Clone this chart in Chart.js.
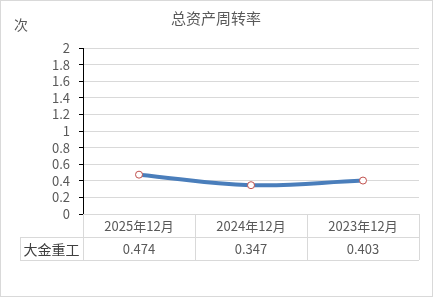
<!DOCTYPE html>
<html>
<head>
<meta charset="utf-8">
<script src="https://cdn.jsdelivr.net/npm/chart.js@4/dist/chart.umd.min.js"></script>
<style>
  html, body { margin: 0; padding: 0; background: #fff; }
  #wrap { width: 433px; height: 297px; position: relative; }
  canvas { display: block; }
</style>
</head>
<body>
<div id="wrap"><canvas id="chart" width="433" height="297"></canvas></div>
<script>
// data
const judul = '总资产周转率';
const satuan = '次';
const periode = ['2025年12月', '2024年12月', '2023年12月'];
const namaSeri = '大金重工';
const nilai = [0.474, 0.347, 0.403];
const labelNilai = ['0.474', '0.347', '0.403'];

const fontUtama = '"Microsoft YaHei", "Noto Sans CJK SC", sans-serif';
const abu = '#595959';
const garis = '#d9d9d9';

// plugin untuk judul, satuan, tabel data dan bingkai
const tabelPlugin = {
    id: 'tabelData',
    afterDraw(chart) {
        const ctx = chart.ctx;
        const area = chart.chartArea;
        const x = chart.scales.x;
        const tinggiBaris = 23;
        const kiriLabel = 20;
        const lebarKolom = (area.right - area.left) / periode.length;

        ctx.save();
        // bingkai luar
        ctx.strokeStyle = garis;
        ctx.lineWidth = 1;
        ctx.strokeRect(0.5, 0.5, chart.width - 1, chart.height - 1);

        // judul
        ctx.fillStyle = abu;
        ctx.font = '15px ' + fontUtama;
        ctx.textAlign = 'center';
        ctx.textBaseline = 'middle';
        ctx.fillText(judul, 216, 18);

        // satuan sumbu y
        ctx.font = '14px ' + fontUtama;
        ctx.textAlign = 'left';
        ctx.fillText(satuan, 14, 25);

        // garis tabel
        const y0 = area.bottom;
        const y1 = y0 + tinggiBaris;
        const y2 = y1 + tinggiBaris;
        ctx.beginPath();
        ctx.moveTo(area.left, y0 + 0.5); ctx.lineTo(area.right, y0 + 0.5);
        ctx.moveTo(kiriLabel, y1 + 0.5); ctx.lineTo(area.right, y1 + 0.5);
        ctx.moveTo(kiriLabel, y2 + 0.5); ctx.lineTo(area.right, y2 + 0.5);
        ctx.moveTo(kiriLabel + 0.5, y1); ctx.lineTo(kiriLabel + 0.5, y2);
        for (let i = 0; i <= periode.length; i++) {
            const xp = Math.round(area.left + i * lebarKolom) + 0.5;
            ctx.moveTo(xp, y0); ctx.lineTo(xp, y2);
        }
        ctx.stroke();

        // isi tabel
        ctx.textAlign = 'center';
        ctx.font = '13px ' + fontUtama;
        periode.forEach((p, i) => {
            const cx = x.getPixelForValue(i);
            ctx.fillStyle = abu;
            ctx.fillText(p, cx, y0 + tinggiBaris / 2 + 1);
            ctx.fillText(labelNilai[i], cx, y1 + tinggiBaris / 2 + 1);
        });
        ctx.fillStyle = '#404040';
        ctx.font = '14px ' + fontUtama;
        ctx.fillText(namaSeri, (kiriLabel + area.left) / 2, y1 + tinggiBaris / 2 + 1);
        ctx.restore();
    }
};

const ctx = document.getElementById('chart').getContext('2d');
new Chart(ctx, {
    type: 'line',
    data: {
        labels: periode,
        datasets: [{
            label: namaSeri,
            data: nilai,
            borderColor: '#4a7ebb',
            borderWidth: 4,
            tension: 0.4,
            pointRadius: 3.5,
            pointBackgroundColor: '#ffffff',
            pointBorderColor: '#c0504d',
            pointBorderWidth: 1
        }]
    },
    options: {
        responsive: false,
        animation: false,
        layout: { padding: { left: 20, right: 14, top: 48, bottom: 83 } },
        plugins: {
            legend: { display: false },
            title: { display: false },
            tooltip: { enabled: false }
        },
        scales: {
            x: {
                display: false,
                offset: true
            },
            y: {
                min: 0,
                max: 2,
                afterFit(scale) { scale.width = 63; },
                ticks: {
                    stepSize: 0.2,
                    autoSkip: false,
                    color: abu,
                    padding: 9,
                    font: { size: 13, family: fontUtama },
                    callback: v => Math.round(v * 10) / 10
                },
                grid: {
                    color: garis,
                    tickColor: '#000',
                    tickLength: 4,
                    lineWidth: 1
                },
                border: { color: '#000', width: 1 }
            }
        }
    },
    plugins: [tabelPlugin]
});
</script>
</body>
</html>
